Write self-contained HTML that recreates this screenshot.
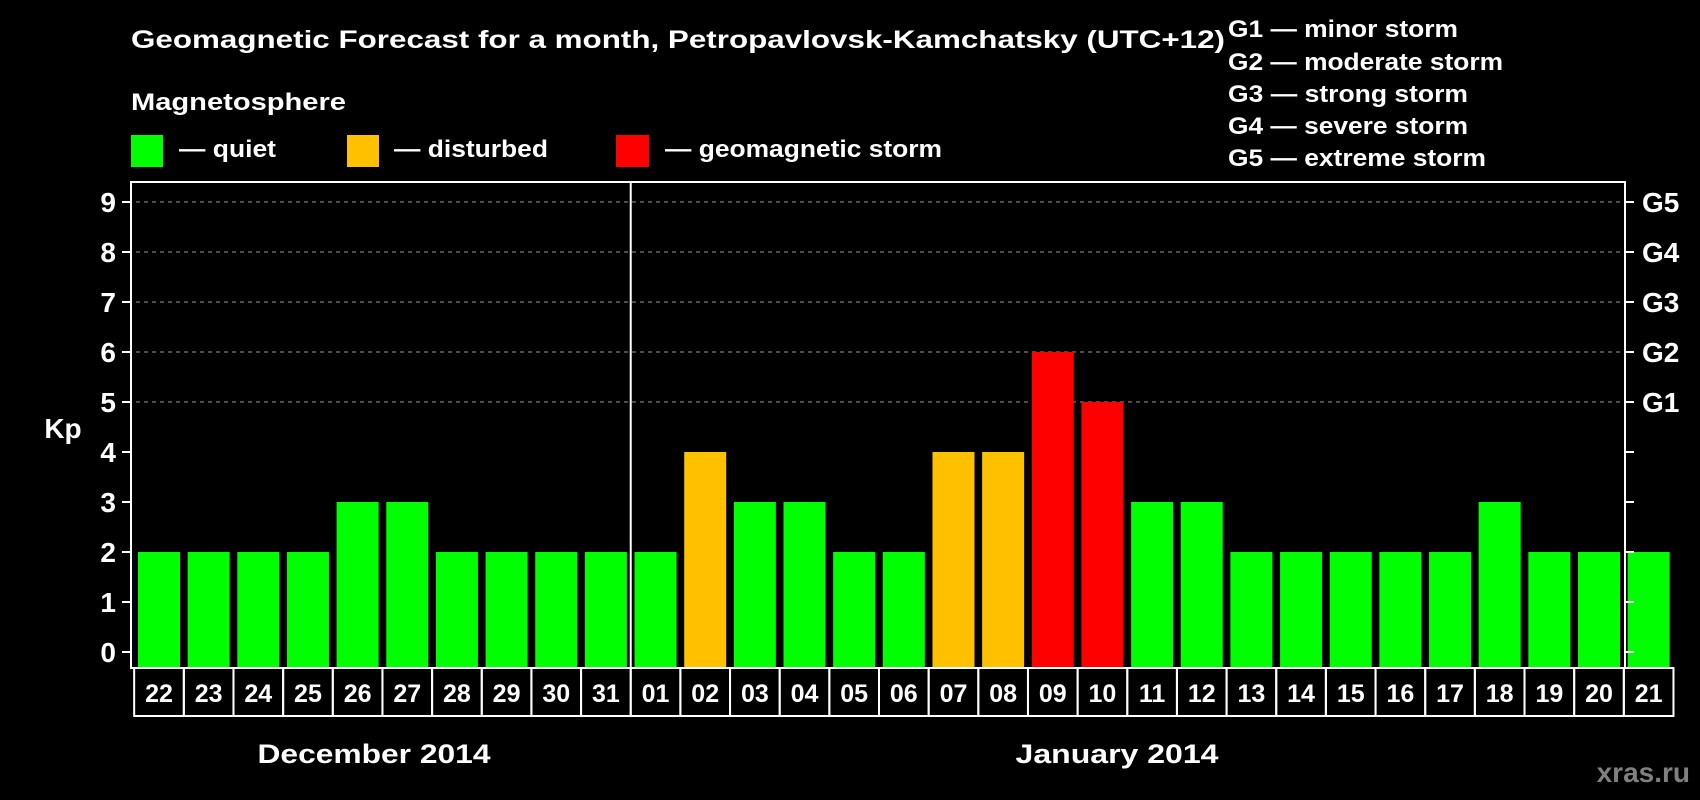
<!DOCTYPE html>
<html><head><meta charset="utf-8"><style>
html,body{margin:0;padding:0;background:#000;}
svg{display:block;font-family:"Liberation Sans",Arial,sans-serif;font-weight:bold;}
</style></head><body>
<svg id="chart" width="1700" height="800" viewBox="0 0 1700 800" xmlns="http://www.w3.org/2000/svg">
<rect x="0" y="0" width="1700" height="800" fill="#000"/>
<text x="131" y="48" fill="#fff" font-size="25" textLength="1094" lengthAdjust="spacingAndGlyphs">Geomagnetic Forecast for a month, Petropavlovsk-Kamchatsky (UTC+12)</text>
<text x="131" y="110" fill="#fff" font-size="24" textLength="215" lengthAdjust="spacingAndGlyphs">Magnetosphere</text>
<g>
<rect x="131" y="135" width="32" height="32" fill="#00ff00"/>
<text x="179" y="157" fill="#fff" font-size="24" textLength="97" lengthAdjust="spacingAndGlyphs">— quiet</text></g>
<g>
<rect x="347" y="135" width="32" height="32" fill="#ffc000"/>
<text x="394" y="157" fill="#fff" font-size="24" textLength="154" lengthAdjust="spacingAndGlyphs">— disturbed</text></g>
<g>
<rect x="616" y="135" width="33" height="32" fill="#ff0000"/>
<text x="665" y="157" fill="#fff" font-size="24" textLength="277" lengthAdjust="spacingAndGlyphs">— geomagnetic storm</text></g>
<g fill="#fff" font-size="24">
<text x="1228" y="37" textLength="230" lengthAdjust="spacingAndGlyphs">G1 — minor storm</text>
<text x="1228" y="70" textLength="275" lengthAdjust="spacingAndGlyphs">G2 — moderate storm</text>
<text x="1228" y="102" textLength="240" lengthAdjust="spacingAndGlyphs">G3 — strong storm</text>
<text x="1228" y="134" textLength="240" lengthAdjust="spacingAndGlyphs">G4 — severe storm</text>
<text x="1228" y="166" textLength="258" lengthAdjust="spacingAndGlyphs">G5 — extreme storm</text>
</g>
<g id="grid"></g>
<g id="bars"></g>
<g id="axes"></g>
<text x="63" y="438" fill="#fff" font-size="28" text-anchor="middle">Kp</text>
<text x="374" y="763" fill="#fff" font-size="27" text-anchor="middle" textLength="233" lengthAdjust="spacingAndGlyphs">December 2014</text>
<text x="1117" y="763" fill="#fff" font-size="27" text-anchor="middle" textLength="203" lengthAdjust="spacingAndGlyphs">January 2014</text>
<text x="1690" y="782" fill="#808080" font-size="28" text-anchor="end">xras.ru</text>
</svg>
<script>
const days = ["22","23","24","25","26","27","28","29","30","31","01","02","03","04","05","06","07","08","09","10","11","12","13","14","15","16","17","18","19","20","21"];
const kpValues = [2,2,2,2,3,3,2,2,2,2,2,4,3,3,2,2,4,4,6,5,3,3,2,2,2,2,2,3,2,2,2];
const yTicks = [0,1,2,3,4,5,6,7,8,9];
const gLabels = ["G1","G2","G3","G4","G5"];
const gLevels = [5,6,7,8,9];
const monthBreakIndex = 10;

const NS = "http://www.w3.org/2000/svg";
const plotL = 131, plotR = 1625, plotT = 182, plotB = 668;
const y0 = 652, unit = 50;
const firstX = 138, pitch = (1578 - 138) / 29, barW = 42;
function yScale(v){ return y0 - v * unit; }
function xScale(i){ return firstX + i * pitch; }
function colorFor(v){ return v >= 5 ? "#ff0000" : (v >= 4 ? "#ffc000" : "#00ff00"); }
function mk(tag, attrs, parent){ const e = document.createElementNS(NS, tag); for (const k in attrs) e.setAttribute(k, attrs[k]); parent.appendChild(e); return e; }

const grid = document.getElementById("grid");
const bars = document.getElementById("bars");
const axes = document.getElementById("axes");

yTicks.forEach(function(t){
  if (t >= 5) {
    const gl = mk("line", {x1: plotL + 5, x2: plotR - 5, y1: yScale(t), y2: yScale(t), stroke: "#9a9a9a", "stroke-width": 1, "stroke-dasharray": "4,4"}, grid);
    
    
  }
  const tl = mk("line", {x1: plotL - 9, x2: plotL, y1: yScale(t), y2: yScale(t), stroke: "#fff", "stroke-width": 2}, axes);
  
  
  const tr = mk("line", {x1: plotR, x2: plotR + 9, y1: yScale(t), y2: yScale(t), stroke: "#fff", "stroke-width": 2}, axes);
  
  
  const lab = mk("text", {x: 116, y: yScale(t) + 10, fill: "#fff", "font-size": 28, "text-anchor": "end"}, axes);
  lab.textContent = t;
  
  
});

gLabels.forEach(function(g, i){
  const lab = mk("text", {x: 1642, y: yScale(gLevels[i]) + 10, fill: "#fff", "font-size": 28}, axes);
  lab.textContent = g;
  
  
});

kpValues.forEach(function(v, i){
  const r = mk("rect", {x: xScale(i), y: yScale(v), width: barW, height: plotB - yScale(v), fill: colorFor(v)}, bars);
  
  
});

const frame = mk("rect", {x: plotL, y: plotT, width: plotR - plotL, height: plotB - plotT, fill: "none", stroke: "#fff", "stroke-width": 2}, axes);



const divX = (xScale(monthBreakIndex - 1) + barW + xScale(monthBreakIndex)) / 2;
const div = mk("line", {x1: divX, x2: divX, y1: plotT, y2: plotB, stroke: "#fff", "stroke-width": 2}, axes);



days.forEach(function(d, i){
  const cx = xScale(i) + barW / 2;
  const b = mk("rect", {x: cx - pitch / 2, y: plotB, width: pitch, height: 48, fill: "none", stroke: "#fff", "stroke-width": 2}, axes);
  
  
  const t = mk("text", {x: cx, y: plotB + 34, fill: "#fff", "font-size": 25, "text-anchor": "middle"}, axes);
  t.textContent = d;
  
  
});
</script>
</body></html>
